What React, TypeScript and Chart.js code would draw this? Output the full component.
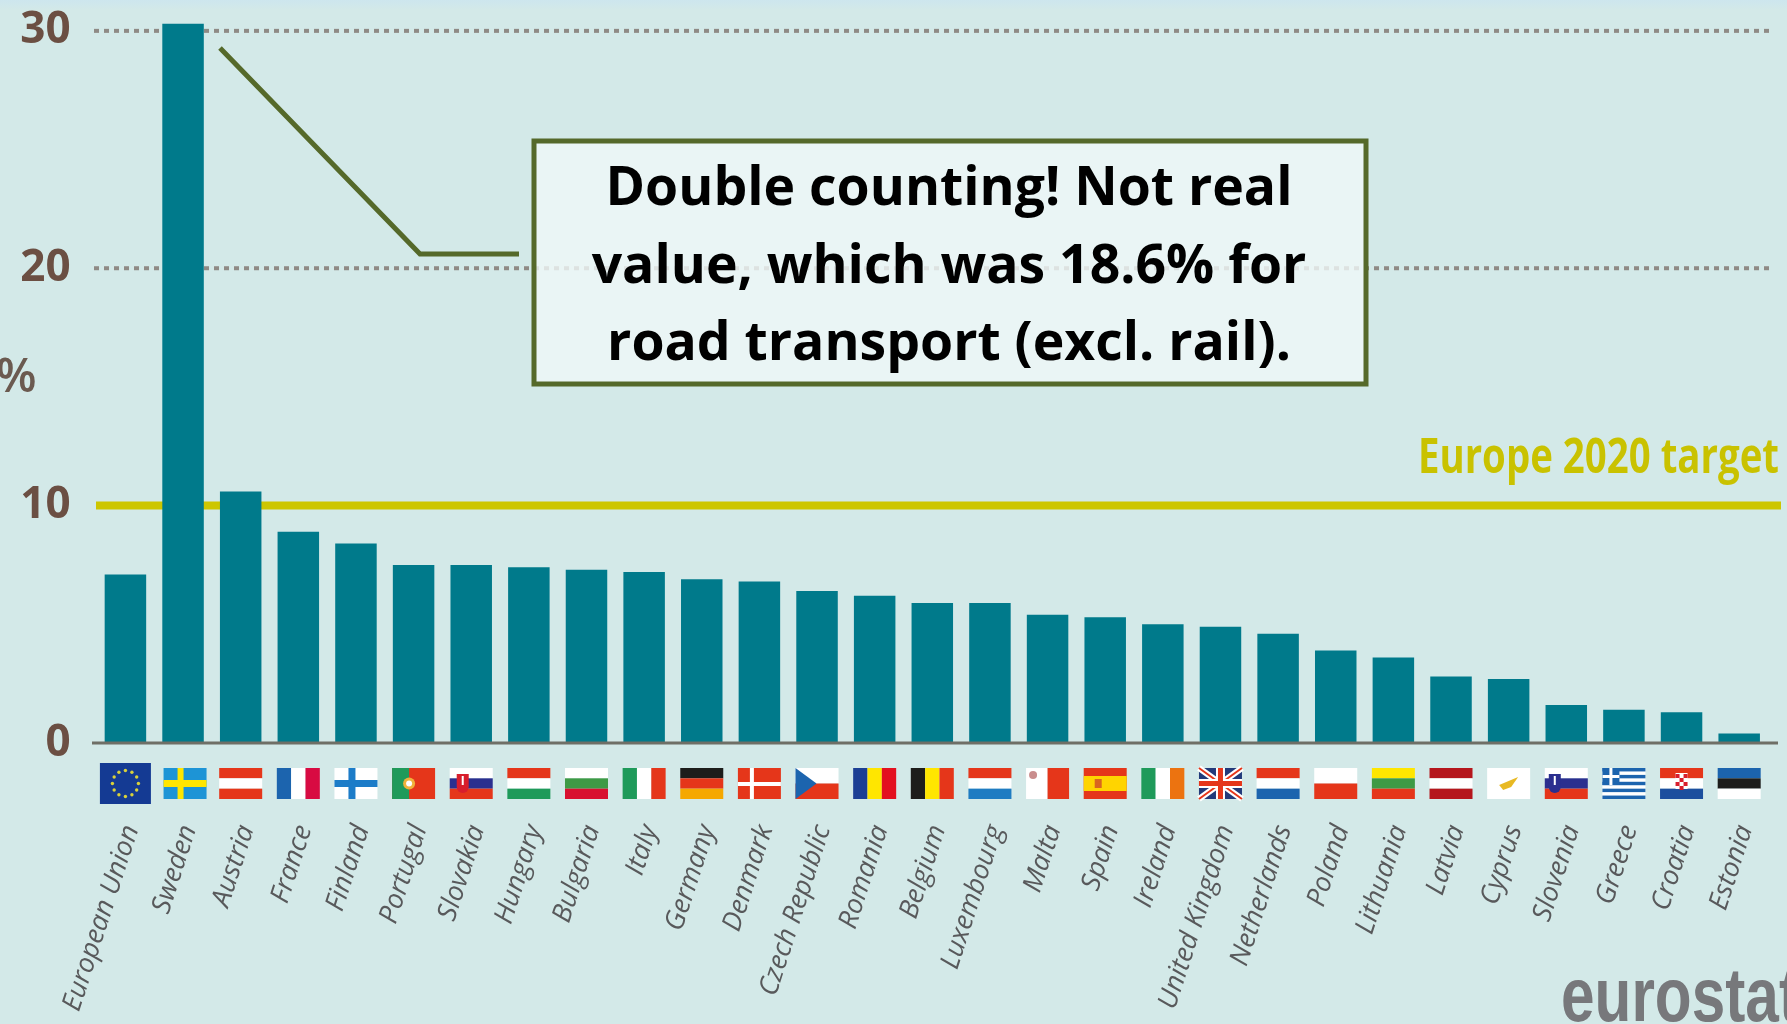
import React, { useEffect, useRef } from "react";
import { Chart, registerables } from "chart.js";

Chart.register(...registerables);

const categories = ["European Union","Sweden","Austria","France","Finland","Portugal","Slovakia","Hungary","Bulgaria","Italy","Germany","Denmark","Czech Republic","Romania","Belgium","Luxembourg","Malta","Spain","Ireland","United Kingdom","Netherlands","Poland","Lithuania","Latvia","Cyprus","Slovenia","Greece","Croatia","Estonia"];
const shares = [7.1,30.3,10.6,8.9,8.4,7.5,7.5,7.4,7.3,7.2,6.9,6.8,6.4,6.2,5.9,5.9,5.4,5.3,5.0,4.9,4.6,3.9,3.6,2.8,2.7,1.6,1.4,1.3,0.4];
const gridValues = [20, 30];
const targetValue = 10;
const targetLabel = "Europe 2020 target";
const calloutLines = ["Double counting! Not real", "value, which was 18.6% for", "road transport (excl. rail)."];
const axisUnit = "%";
const sourceLabel = "eurostat";

const R = "#e5361a", W = "#ffffff";
const flagStripes: Record<string, [string, string[]]> = {
  Austria: ["h", [R, W, R]],
  France: ["v", ["#1c64ae", W, "#d80b42"]],
  Slovakia: ["h", [W, "#2b2f8f", R]],
  Hungary: ["h", [R, W, "#1f9a5a"]],
  Bulgaria: ["h", [W, "#3e9a45", "#d8102f"]],
  Italy: ["v", ["#1f9a5a", W, R]],
  Germany: ["h", ["#1d1d1b", R, "#f5a800"]],
  Romania: ["v", ["#1c3f94", "#ffe600", "#e3101f"]],
  Belgium: ["v", ["#1d1d1b", "#ffe600", R]],
  Luxembourg: ["h", [R, W, "#1f7cc2"]],
  Ireland: ["v", ["#1f9a5a", W, "#ec7310"]],
  Netherlands: ["h", [R, W, "#1c64ae"]],
  Poland: ["h", [W, R]],
  Lithuania: ["h", ["#ffe600", "#3e9a45", R]],
  Latvia: ["h", ["#b5161c", W, "#b5161c"]],
  Slovenia: ["h", [W, "#2b2f8f", R]],
  Croatia: ["h", [R, W, "#1c4f9e"]],
  Estonia: ["h", ["#1c64ae", "#1d1d1b", W]],
};

function drawFlag(c: CanvasRenderingContext2D, name: string, cx: number) {
  const w = 43, h = 31, x = cx - w / 2, y = 768;
  const rect = (col: string, a: number, b: number, e: number, f: number) => {
    c.fillStyle = col;
    c.fillRect(a, b, e, f);
  };
  const spec = flagStripes[name];
  if (spec) {
    const [dir, cols] = spec;
    cols.forEach((col, i) => {
      if (dir === "h") rect(col, x, y + (i * h) / cols.length, w, h / cols.length);
      else rect(col, x + (i * w) / cols.length, y, w / cols.length, h);
    });
  }
  if (name === "European Union") {
    rect("#143a93", cx - 25.5, 763, 51, 41);
    for (let i = 0; i < 12; i++) {
      const a = (i * Math.PI) / 6;
      c.fillStyle = "#d8d13a";
      c.beginPath();
      c.arc(cx + Math.cos(a) * 13, 783.5 + Math.sin(a) * 13, 1.7, 0, 7);
      c.fill();
    }
  } else if (name === "Sweden") {
    rect("#1d94d6", x + 2, y, w, h);
    rect("#ffe600", x + 2, y + 12, w, 7);
    rect("#ffe600", x + 16, y, 6, h);
  } else if (name === "Finland") {
    rect(W, x, y, w, h);
    rect("#1c7cc8", x, y + 12, w, 7);
    rect("#1c7cc8", x + 14, y, 7, h);
  } else if (name === "Denmark") {
    rect(R, x, y, w, h);
    rect(W, x, y + 14, w, 4);
    rect(W, x + 12, y, 4, h);
  } else if (name === "Portugal") {
    rect(R, x, y, w, h);
    rect("#1f9a5a", x, y, 17, h);
    c.fillStyle = "#f0b23a";
    c.beginPath();
    c.arc(x + 17, y + 15.5, 6, 0, 7);
    c.fill();
    c.fillStyle = W;
    c.beginPath();
    c.arc(x + 17, y + 15.5, 3, 0, 7);
    c.fill();
  } else if (name === "Slovakia" || name === "Slovenia") {
    const sx = name === "Slovakia" ? x + 13 : x + 10;
    rect(name === "Slovakia" ? "#d81e2c" : "#2b2f8f", sx - 6, y + 6, 12, 13);
    c.fillStyle = W;
    c.fillRect(sx - 1, y + 8, 2, 9);
    c.beginPath();
    c.arc(sx, y + 19, 6, 0, Math.PI);
    c.fillStyle = name === "Slovakia" ? "#d81e2c" : "#2b2f8f";
    c.fill();
  } else if (name === "Czech Republic") {
    rect(W, x, y, w, h / 2);
    rect(R, x, y + h / 2, w, h / 2);
    c.fillStyle = "#1c64ae";
    c.beginPath();
    c.moveTo(x, y);
    c.lineTo(x + 21, y + h / 2);
    c.lineTo(x, y + h);
    c.fill();
  } else if (name === "Malta") {
    rect(W, x, y, w / 2, h);
    rect(R, x + w / 2, y, w / 2, h);
    c.fillStyle = "#c98d8d";
    c.beginPath();
    c.arc(x + 7, y + 7, 4, 0, 7);
    c.fill();
  } else if (name === "Spain") {
    rect(R, x, y, w, h);
    rect("#ffd400", x, y + 8, w, 15);
    rect("#d9661f", x + 11, y + 11, 7, 9);
  } else if (name === "United Kingdom") {
    rect("#223a7a", x, y, w, h);
    c.lineWidth = 6;
    c.strokeStyle = W;
    c.beginPath();
    c.moveTo(x, y); c.lineTo(x + w, y + h);
    c.moveTo(x + w, y); c.lineTo(x, y + h);
    c.stroke();
    c.lineWidth = 2;
    c.strokeStyle = R;
    c.stroke();
    rect(W, x, y + 11, w, 9);
    rect(W, x + 17, y, 9, h);
    rect(R, x, y + 13, w, 5);
    rect(R, x + 19, y, 5, h);
  } else if (name === "Cyprus") {
    rect(W, x, y, w, h);
    c.fillStyle = "#e8b923";
    c.beginPath();
    c.moveTo(x + 12, y + 17);
    c.lineTo(x + 31, y + 9);
    c.lineTo(x + 24, y + 19);
    c.lineTo(x + 16, y + 22);
    c.fill();
  } else if (name === "Greece") {
    rect(W, x, y, w, h);
    for (let i = 0; i < 5; i++) rect("#1c64ae", x, y + (i * 2 * h) / 9, w, h / 9);
    rect("#1c64ae", x, y, 17, 17);
    rect(W, x, y + 7, 17, 3);
    rect(W, x + 7, y, 3, 17);
  } else if (name === "Croatia") {
    rect(W, cx - 6, y + 5, 12, 16);
    for (let i = 0; i < 3; i++) {
      rect("#d81e2c", cx - 6 + i * 4, y + 6 + (i % 2) * 4, 4, 4);
      rect("#d81e2c", cx - 6 + i * 4, y + 14 + (i % 2) * 4, 4, 4);
    }
  }
}

const decorPlugin = {
  id: "decor",
  beforeDatasetsDraw(chart: any) {
    const c = chart.ctx as CanvasRenderingContext2D;
    const ys = chart.scales.y;
    c.save();
    c.lineWidth = 4;
    c.strokeStyle = "#8f8a85";
    c.setLineDash([5, 5]);
    gridValues.forEach((v) => {
      const py = ys.getPixelForValue(v);
      c.beginPath();
      c.moveTo(94, py);
      c.lineTo(1774, py);
      c.stroke();
    });
    c.setLineDash([]);
    c.lineWidth = 8;
    c.strokeStyle = "#cdc600";
    const ty = ys.getPixelForValue(targetValue);
    c.beginPath();
    c.moveTo(96, ty);
    c.lineTo(1781, ty);
    c.stroke();
    c.restore();
  },
  afterDatasetsDraw(chart: any) {
    const c = chart.ctx as CanvasRenderingContext2D;
    const ys = chart.scales.y, xs = chart.scales.x;
    c.save();
    const by = ys.getPixelForValue(0);
    c.lineWidth = 3;
    c.strokeStyle = "#6f6f66";
    c.beginPath();
    c.moveTo(92, by);
    c.lineTo(1778, by);
    c.stroke();

    categories.forEach((name, i) => drawFlag(c, name, xs.getPixelForTick(i)));

    // leader
    c.lineWidth = 5;
    c.strokeStyle = "#55692a";
    c.beginPath();
    c.moveTo(220, 48);
    c.lineTo(420, 254);
    c.lineTo(519, 254);
    c.stroke();

    // callout
    c.fillStyle = "rgba(240,248,247,0.8)";
    c.fillRect(534, 141, 832, 243);
    c.strokeRect(534, 141, 832, 243);
    c.fillStyle = "#000";
    c.font = "bold 53.5px 'Open Sans'";
    c.textAlign = "center";
    c.textBaseline = "alphabetic";
    calloutLines.forEach((t, i) => c.fillText(t, 949, 205 + i * 77.5));

    // target label
    c.save();
    c.translate(1779, 473);
    c.scale(0.8, 1);
    c.fillStyle = "#c9c200";
    c.font = "bold 48px 'Open Sans'";
    c.textAlign = "right";
    c.fillText(targetLabel, 0, 0);
    c.restore();

    // unit
    c.fillStyle = "#6b5a50";
    c.font = "600 47px 'Open Sans'";
    c.textAlign = "left";
    c.fillText(axisUnit, -4, 392);

    // source
    c.save();
    c.translate(1561, 1021);
    c.scale(1.04, 1.3);
    c.fillStyle = "#77787b";
    c.font = "bold 58px 'Liberation Sans'";
    c.fillText(sourceLabel, 0, 0);
    c.restore();
    c.restore();
  },
};

export default function App() {
  const ref = useRef<HTMLCanvasElement>(null);
  useEffect(() => {
    document.body.style.margin = "0";
    document.body.style.overflow = "hidden";
    const chart = new Chart(ref.current as HTMLCanvasElement, {
      type: "bar",
      data: {
        labels: categories,
        datasets: [{
          data: shares,
          backgroundColor: "#007a8b",
          barPercentage: 1,
          categoryPercentage: 0.72,
          clip: false,
        } as any],
      },
      plugins: [decorPlugin as any],
      options: {
        animation: false,
        responsive: false,
        events: [],
        layout: { padding: { right: 19 } },
        plugins: { legend: { display: false }, tooltip: { enabled: false } },
        scales: {
          x: {
            grid: { display: false },
            border: { display: false },
            afterFit: (s: any) => { s.height = 281; s.paddingLeft = 0; s.paddingRight = 0; },
            ticks: {
              autoSkip: false,
              minRotation: 72,
              maxRotation: 72,
              padding: 70,
              labelOffset: 6,
              color: "#58595b",
              font: { family: "'Open Sans'", style: "italic", size: 27 },
            },
          },
          y: {
            min: 0,
            max: 31.3,
            grid: { display: false },
            border: { display: false },
            afterFit: (s: any) => { s.width = 96.6; s.paddingTop = 0; s.paddingBottom = 0; },
            ticks: {
              stepSize: 10,
              includeBounds: false,
              padding: 18,
              labelOffset: 0,
              color: "#6b4f43",
              font: { family: "'Open Sans'", weight: "bold", size: 44 },
            },
          },
        },
      },
    } as any);
    return () => chart.destroy();
  }, []);
  return (
    <div style={{ position: "absolute", left: 0, top: 0, width: 1787, height: 1024, background: "linear-gradient(#cde6ee 0, #d3e9e8 10px)" }}>
      <canvas ref={ref} width={1787} height={1024} style={{ display: "block" }} />
    </div>
  );
}
